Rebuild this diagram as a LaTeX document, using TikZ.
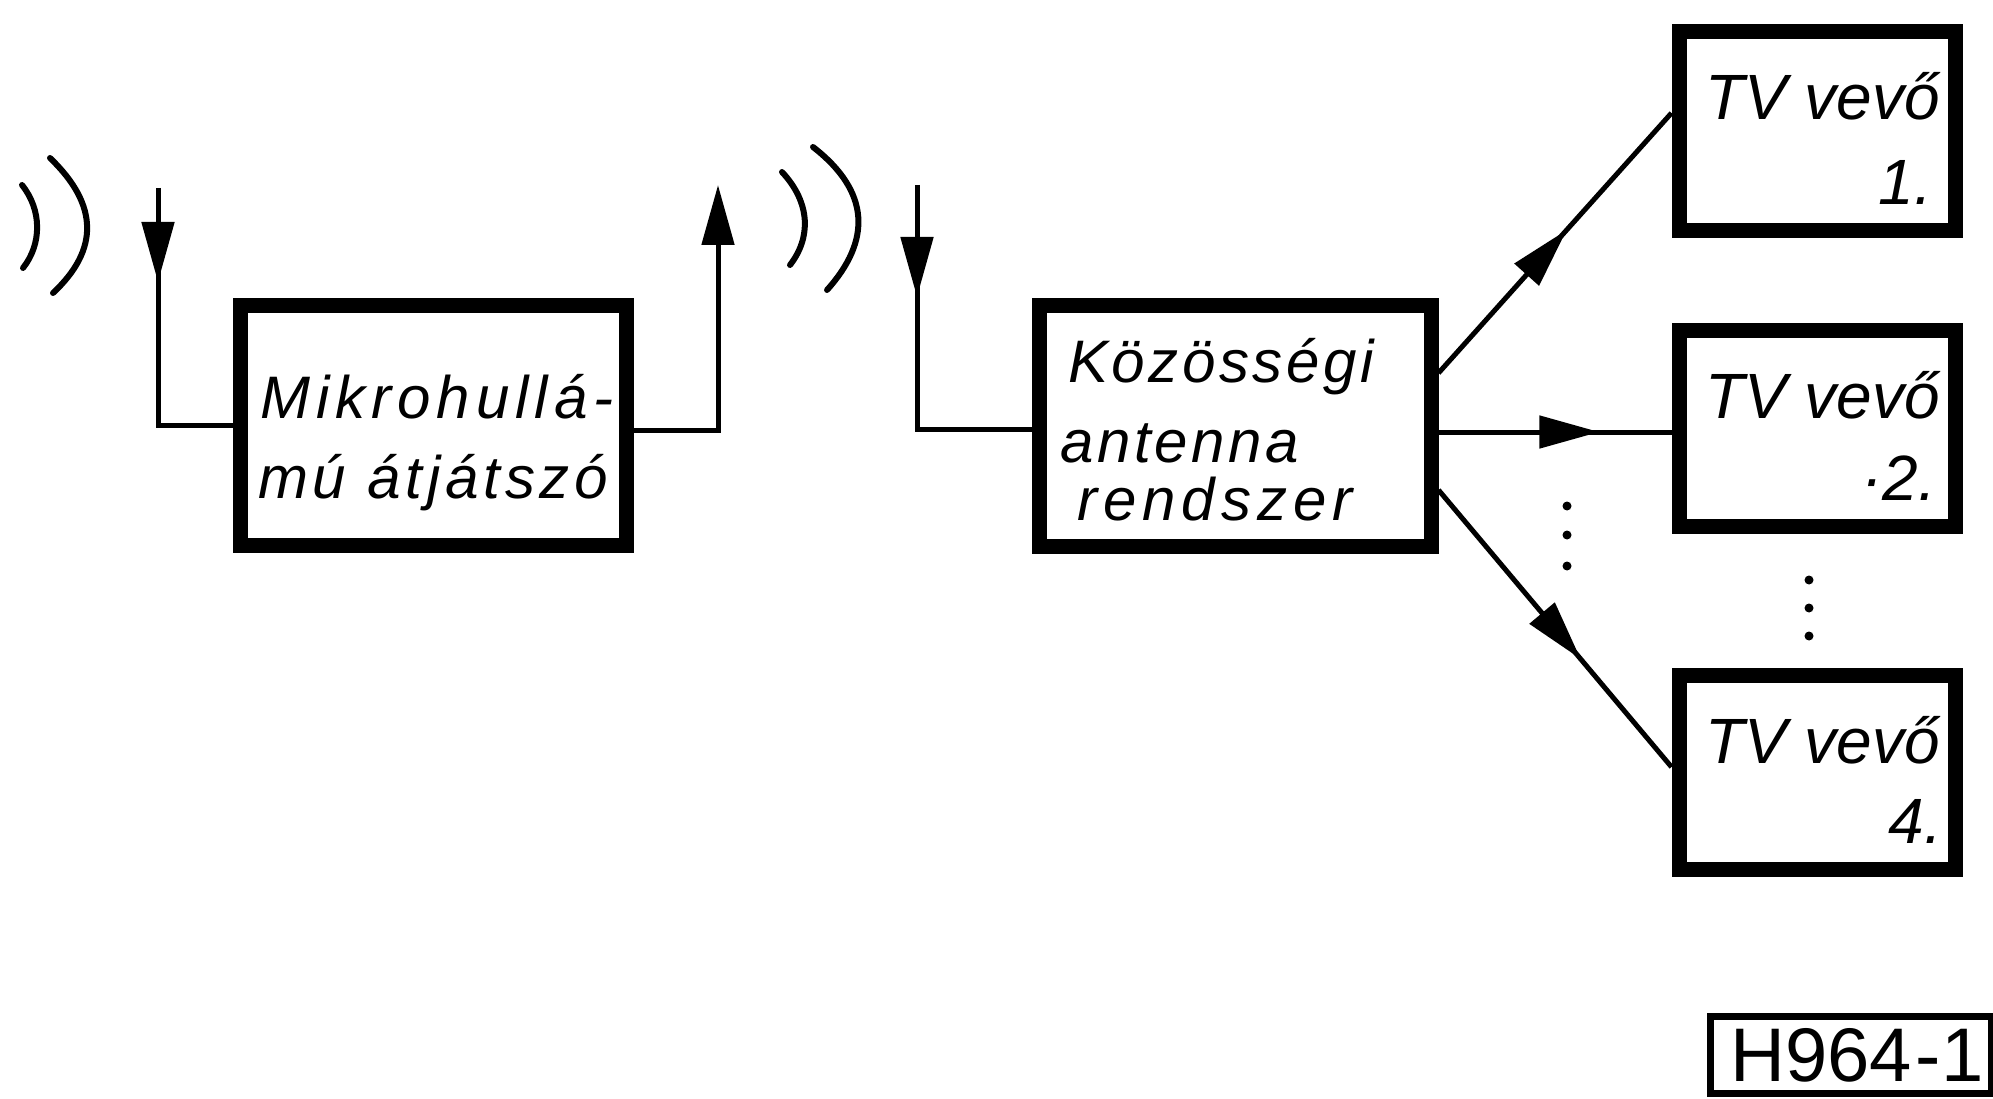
\documentclass[tikz,border=0pt]{standalone}
\usepackage{fontspec}
\setmainfont{Liberation Sans}
\usetikzlibrary{arrows.meta,decorations.markings}
\tikzset{
  box/.style={draw, line width=15pt, inner sep=0pt, minimum width=#1},
  box/.default=276pt,
  txt/.style={inner sep=0pt, font=\itshape\fontsize{60}{60}\selectfont},
  tvtxt/.style={inner sep=0pt, font=\itshape\fontsize{64}{64}\selectfont},
  wire/.style={line width=5pt},
  wave/.style={line width=6pt, line cap=round},
  bighead/.tip={Triangle[length=60pt,width=32pt]},
  midarrow/.style={postaction={decorate}, decoration={markings, mark=at position #1 with {\arrow{bighead}}}},
  dotmark/.style={fill=black},
}
\begin{document}
\begin{tikzpicture}[x=1pt,y=-1pt]
\useasboundingbox (0,0) rectangle (1993,1099);
% boxes
\node[box=386pt, minimum height=240pt] (mikro) at (433,425) {};
\node[box=392pt, minimum height=241pt] (koz) at (1235,425.5) {};
\node[box, minimum height=199pt] (tv1) at (1817,131.5) {};
\node[box, minimum height=196pt] (tv2) at (1817,428) {};
\node[box, minimum height=194pt] (tv4) at (1817,772) {};
\node[draw, line width=7pt, inner sep=0pt, minimum width=281pt, minimum height=77pt] (hbox) at (1851,1055) {};
% texts
\node[txt, anchor=base west] (m1) at (260,418) {\addfontfeature{LetterSpace=10}Mikrohullá-};
\node[txt, anchor=base west] (m2) at (258,498) {\addfontfeature{LetterSpace=8}mú átjátszó};
\node[txt, anchor=base west] (k1) at (1068,382) {\addfontfeature{LetterSpace=6}Közösségi};
\node[txt, anchor=base west] (k2) at (1060,462) {\addfontfeature{LetterSpace=6}antenna};
\node[txt, anchor=base west] (k3) at (1077,520) {\addfontfeature{LetterSpace=10}rendszer};
\node[tvtxt, anchor=base west] (t1a) at (1705,120) {TV vevő};
\node[tvtxt, anchor=base east] (t1b) at (1932,205) {1.};
\node[tvtxt, anchor=base west] (t2a) at (1705,418) {TV vevő};
\node[tvtxt, anchor=base east] (t2b) at (1936,500) {·2.};
\node[tvtxt, anchor=base west] (t4a) at (1705,763) {TV vevő};
\node[tvtxt, anchor=base east] (t4b) at (1942,843) {4.};
\node[inner sep=0pt, anchor=base west, font=\fontsize{76}{76}\selectfont] (hlab) at (1730,1081) {H964\kern4pt-1};
% antenna coordinates
\coordinate (a1) at (158,188);
\coordinate (a2) at (718,185);
\coordinate (a3) at (917,185);
% antenna connectors
\draw[wire, midarrow=94pt] (a1) |- (mikro.west);
\draw[wire, -{bighead}] ([yshift=-5pt]mikro.east) -| (a2);
\draw[wire, midarrow=112pt] (a3) |- ([yshift=-4pt]koz.west);
% distribution
\draw[wire, midarrow=0.55] ([yshift=52.5pt]koz.east) -- ([yshift=18.5pt]tv1.west);
\draw[wire, midarrow=0.69] ([yshift=-6.5pt]koz.east) -- ([yshift=-4pt]tv2.west);
\draw[wire, midarrow=0.61] ([yshift=-64.5pt]koz.east) -- ([yshift=5pt]tv4.west);
% waves
\draw[wave] (22,185) .. controls (42,210) and (42,244) .. (23,268);
\draw[wave] (50,158) .. controls (99,205) and (99,250) .. (53,293);
\draw[wave] (782,172) .. controls (811,203) and (811,238) .. (790,265);
\draw[wave] (813,147) .. controls (871,192) and (871,241) .. (827,290);
% dots
\foreach \yy in {506,535,566} \fill[dotmark] (1567,\yy) circle (4.5pt);
\foreach \yy in {580,608,636} \fill[dotmark] (1809,\yy) circle (4.5pt);
\end{tikzpicture}
\end{document}
